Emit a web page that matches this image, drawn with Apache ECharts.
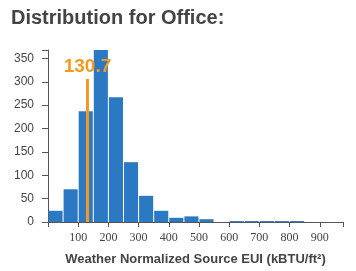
<!DOCTYPE html>
<html>
<head>
<meta charset="utf-8">
<script src="https://cdn.jsdelivr.net/npm/echarts@6/dist/echarts.min.js"></script>
<style>
  html, body { margin: 0; padding: 0; background: #fff; }
  #main { width: 356px; height: 271px; }
</style>
</head>
<body>
<div id="main"></div>
<script>
// histogram bins (50 kBTU/ft² wide)
var binLow = [0, 50, 100, 150, 200, 250, 300, 350, 400, 450, 500, 550, 600, 650, 700, 750, 800];
var binHigh = [50, 100, 150, 200, 250, 300, 350, 400, 450, 500, 550, 600, 650, 700, 750, 800, 850];
var counts = [24, 70, 237, 368, 267, 128, 56, 24, 9, 12, 6, 0, 2, 2, 2, 2, 2];

// marker for this building
var markerValue = 130.7;
var markerHeight = 306;
var markerLabel = '130.7';

var xTicks = [100, 200, 300, 400, 500, 600, 700, 800, 900];
var yTicks = [0, 50, 100, 150, 200, 250, 300, 350];

var chart = echarts.init(document.getElementById('main'));

var barData = [];
for (var i = 0; i < counts.length; i++) {
  barData.push([binLow[i], binHigh[i], counts[i]]);
}

var option = {
  animation: false,
  title: {
    text: 'Distribution for Office:',
    left: 11,
    top: 8,
    padding: 0,
    textStyle: {
      fontFamily: 'Liberation Sans',
      fontSize: 20,
      fontWeight: 'bold',
      color: '#444'
    }
  },
  grid: { left: 48, right: 13, top: 50, bottom: 48 },
  xAxis: {
    type: 'value',
    min: 0,
    max: 977,
    interval: 100,
    name: 'Weather Normalized Source EUI (kBTU/ft²)',
    nameLocation: 'middle',
    nameGap: 31,
    nameTextStyle: {
      fontFamily: 'Liberation Sans',
      fontSize: 13,
      fontWeight: 'bold',
      color: '#444'
    },
    splitLine: { show: false },
    axisLine: { lineStyle: { color: '#555', width: 1 } },
    axisTick: { show: true, length: 5, lineStyle: { color: '#555' } },
    axisLabel: {
      margin: 10,
      fontFamily: 'Liberation Sans Narrow',
      fontSize: 12,
      color: '#444',
      formatter: function (v) {
        return xTicks.indexOf(v) >= 0 ? String(v) : '';
      }
    }
  },
  yAxis: {
    type: 'value',
    min: 0,
    max: 368,
    interval: 50,
    splitLine: { show: false },
    axisLine: { show: true, lineStyle: { color: '#555', width: 1 } },
    axisTick: { show: true, length: 6, lineStyle: { color: '#555' } },
    axisLabel: {
      margin: 14,
      fontFamily: 'Liberation Sans',
      fontSize: 12,
      color: '#444',
      formatter: function (v) {
        return yTicks.indexOf(v) >= 0 ? String(v) : '';
      }
    }
  },
  series: [{
    type: 'custom',
    data: barData,
    encode: { x: [0, 1], y: 2 },
    renderItem: function (params, api) {
      var top = api.coord([api.value(0), api.value(2)]);
      var bottom = api.coord([api.value(1), 0]);
      return {
        type: 'rect',
        shape: {
          x: top[0] + 0.5,
          y: top[1],
          width: bottom[0] - top[0] - 1,
          height: bottom[1] - top[1]
        },
        style: { fill: '#2a79c2' }
      };
    }
  }, {
    type: 'custom',
    data: [[markerValue, markerHeight]],
    z: 5,
    renderItem: function (params, api) {
      var p0 = api.coord([api.value(0), 0]);
      var p1 = api.coord([api.value(0), api.value(1)]);
      return {
        type: 'group',
        children: [{
          type: 'line',
          shape: { x1: p0[0], y1: p0[1], x2: p1[0], y2: p1[1] },
          style: { stroke: '#f39a1e', lineWidth: 3 }
        }, {
          type: 'text',
          x: p1[0],
          y: p1[1] - 3,
          style: {
            text: markerLabel,
            fill: '#f39a1e',
            font: 'bold 19px "Liberation Sans"',
            textAlign: 'center',
            textVerticalAlign: 'bottom'
          }
        }]
      };
    }
  }]
};

chart.setOption(option);
</script>
</body>
</html>
